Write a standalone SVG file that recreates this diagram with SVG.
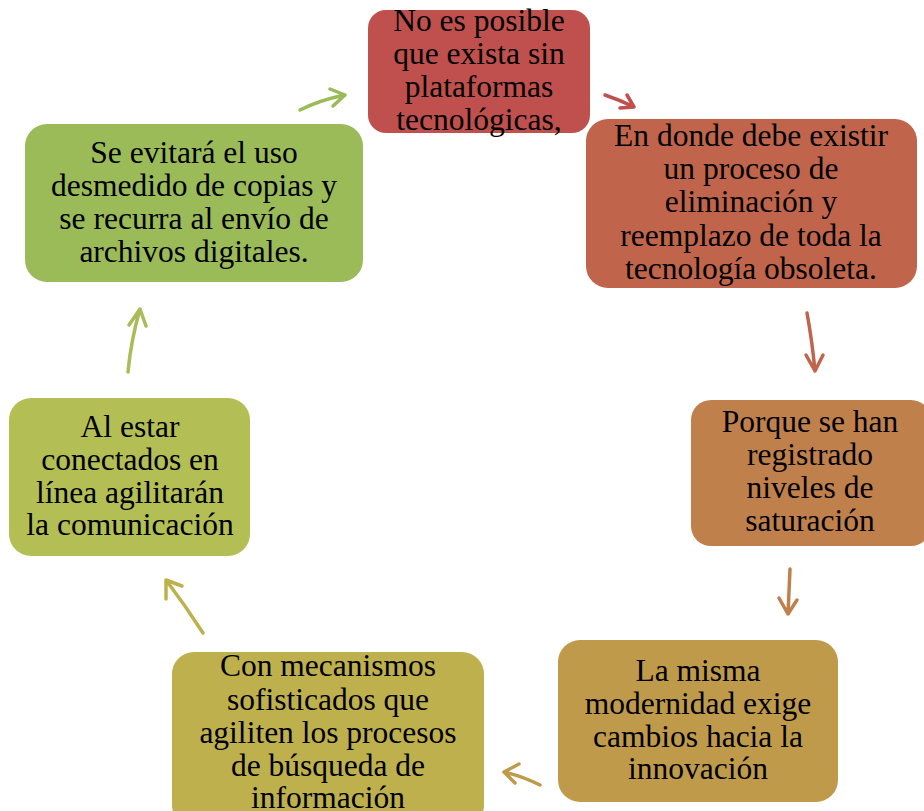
<svg xmlns="http://www.w3.org/2000/svg" width="924" height="811" viewBox="0 0 924 811">
<style>
text{font-family:"Liberation Serif","Times New Roman",serif;font-size:31.5px;fill:#000;text-anchor:middle}
.c{fill:none;stroke-width:3.5;stroke-linecap:round;stroke-linejoin:round}
</style>
<rect width="924" height="811" fill="#fff"/>
<g id="connectors">
<path class="c" stroke="#9BBB59" d="M300,110 Q320,100 345,95 M330,89 L345,95 L333,106"/>
<path class="c" stroke="#C0504D" d="M605,95 Q620,100 634,107 M620,108 L634,107 L627,95"/>
<path class="c" stroke="#C0654B" d="M807,313 Q812,340 815,371 M806,355 L815,371 L823,355"/>
<path class="c" stroke="#C0804C" d="M790,569 Q789,590 788,614 M779,598 L788,614 L797,600"/>
<path class="c" stroke="#BF9A4B" d="M540,785 Q522,776 504,772 M519,764 L504,772 L515,783"/>
<path class="c" stroke="#BFB04E" d="M203,633 Q185,605 166,580 M166,599 L166,580 L182,586"/>
<path class="c" stroke="#A8BC57" d="M128,372 Q131,340 140,309 M129,325 L140,309 L146,326"/>
</g>
<g id="n1"><rect x="368" y="10" width="222" height="123" rx="18" fill="#C0504D"/>
<text x="479" y="31">No es posible</text><text x="479" y="64">que exista sin</text><text x="479" y="97">plataformas</text><text x="479" y="130">tecnológicas,</text></g>
<g id="n2"><rect x="586" y="119" width="331" height="169" rx="22" fill="#C0654B"/>
<text x="751" y="146">En donde debe existir</text><text x="751" y="179">un proceso de</text><text x="751" y="212">eliminación y</text><text x="751" y="246">reemplazo de toda la</text><text x="751" y="279">tecnología obsoleta.</text></g>
<g id="n3"><rect x="691" y="400" width="240" height="146" rx="20" fill="#C0804C"/>
<text x="810" y="432">Porque se han</text><text x="810" y="465">registrado</text><text x="810" y="498">niveles de</text><text x="810" y="531">saturación</text></g>
<g id="n4"><rect x="558" y="640" width="280" height="162" rx="22" fill="#BF9A4B"/>
<text x="698" y="681">La misma</text><text x="698" y="714">modernidad exige</text><text x="698" y="747">cambios hacia la</text><text x="698" y="779">innovación</text></g>
<g id="n5"><rect x="172" y="652" width="312" height="175" rx="22" fill="#BFB04E"/>
<text x="328" y="676">Con mecanismos</text><text x="328" y="710">sofisticados que</text><text x="328" y="743">agiliten los procesos</text><text x="328" y="776">de búsqueda de</text><text x="328" y="808">información</text></g>
<g id="n6"><rect x="9" y="398" width="241" height="158" rx="22" fill="#B3BE55"/>
<text x="130" y="437">Al estar</text><text x="130" y="470">conectados en</text><text x="130" y="503">línea agilitarán</text><text x="130" y="535">la comunicación</text></g>
<g id="n7"><rect x="25" y="124" width="338" height="158" rx="22" fill="#9BBB59"/>
<text x="194" y="163">Se evitará el uso</text><text x="194" y="196">desmedido de copias y</text><text x="194" y="229">se recurra al envío de</text><text x="194" y="262">archivos digitales.</text></g>
</svg>
